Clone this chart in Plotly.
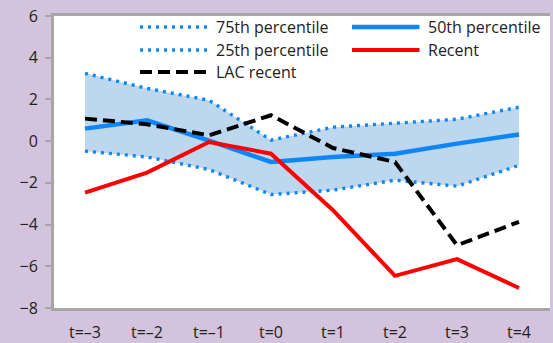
import plotly.graph_objects as go

# Horizon labels (quarters relative to event)
periods = ["t=\u20133", "t=\u20132", "t=\u20131", "t=0", "t=1", "t=2", "t=3", "t=4"]

# Distribution of past episodes and recent paths
p75 = [3.25, 2.53, 1.96, 0.05, 0.67, 0.85, 1.05, 1.63]
p50 = [0.60, 1.00, 0.02, -1.00, -0.76, -0.60, -0.12, 0.32]
p25 = [-0.48, -0.76, -1.36, -2.56, -2.35, -1.87, -2.16, -1.16]
recent = [-2.47, -1.51, -0.04, -0.60, -3.31, -6.46, -5.66, -7.04]
lac_recent = [1.08, 0.81, 0.28, 1.24, -0.33, -1.00, -4.99, -3.87]

BLUE = "#0f86f5"
BAND = "#bdd7ee"
GRID = "#a6a6a6"
FONT = "Open Sans"
TXT = "#222222"

DOT = dict(color=BLUE, width=3.4, dash="3px,5px")
MID = dict(color=BLUE, width=4.5)
RED = dict(color="#ff0000", width=4)
BLK = dict(color="#000000", width=4, dash="12px,6px")

fig = go.Figure()
fig.add_trace(go.Scatter(x=periods, y=p75, name="75th percentile", mode="lines", line=DOT))
fig.add_trace(go.Scatter(x=periods, y=p25, name="25th percentile", mode="lines", line=DOT,
                         fill="tonexty", fillcolor=BAND))
fig.add_trace(go.Scatter(x=periods, y=p50, name="50th percentile", mode="lines", line=MID))
fig.add_trace(go.Scatter(x=periods, y=recent, name="Recent", mode="lines", line=RED))
fig.add_trace(go.Scatter(x=periods, y=lac_recent, name="LAC recent", mode="lines", line=BLK))

# Legend drawn as key lines plus labels, two columns
legend_items = [
    ("75th percentile", DOT, 0, 0),
    ("50th percentile", MID, 1, 0),
    ("25th percentile", DOT, 0, 1),
    ("Recent", RED, 1, 1),
    ("LAC recent", BLK, 0, 2),
]
col_x = [0.1734, 0.6008]
key_len = 0.136
row_y = [0.9623, 0.8836, 0.8082]
for label, style, col, row in legend_items:
    x0 = col_x[col]
    y = row_y[row]
    fig.add_shape(type="line", xref="paper", yref="paper", x0=x0, x1=x0 + key_len,
                  y0=y, y1=y, line=style)
    fig.add_annotation(xref="paper", yref="paper", x=x0 + key_len + 0.014, y=y,
                       text=label, showarrow=False, xanchor="left", yanchor="middle",
                       font=dict(family=FONT, size=16, color=TXT))

fig.update_layout(
    width=553, height=343,
    margin=dict(l=54, r=3, t=16, b=35, autoexpand=False),
    paper_bgcolor="#d4c3dc",
    plot_bgcolor="#ffffff",
    font=dict(family=FONT, size=16, color=TXT),
    showlegend=False,
    xaxis=dict(type="category", categoryorder="array", categoryarray=periods,
               range=[-0.5, 7.5], showgrid=False, zeroline=False, automargin=False,
               showline=True, linecolor=GRID, linewidth=3, mirror=True,
               ticks="outside", ticklen=8, tickcolor="rgba(0,0,0,0)"),
    yaxis=dict(range=[-8, 6], dtick=2, showgrid=False, zeroline=False, automargin=False,
               showline=True, linecolor=GRID, linewidth=3,
               ticks="outside", ticklen=6, tickwidth=2, tickcolor=GRID,
               ticklabelstandoff=4),
    # axis crossing at zero with ticks on category boundaries
    xaxis2=dict(overlaying="x", anchor="free", position=8 / 14, automargin=False,
                range=[-0.5, 7.5], tickvals=[0.5, 1.5, 2.5, 3.5, 4.5, 5.5, 6.5],
                showticklabels=False, showgrid=False, zeroline=False,
                showline=True, linecolor=GRID, linewidth=2,
                ticks="inside", ticklen=6, tickwidth=2, tickcolor=GRID),
    # right-hand frame with its own tick marks
    yaxis2=dict(overlaying="y", side="right", anchor="x", range=[-8, 6], automargin=False,
                tickvals=[2, -3, -8], showticklabels=False, showgrid=False,
                zeroline=False, showline=True, linecolor=GRID, linewidth=3,
                ticks="inside", ticklen=6, tickwidth=2, tickcolor=GRID),
)

fig.write_html("out.html")
